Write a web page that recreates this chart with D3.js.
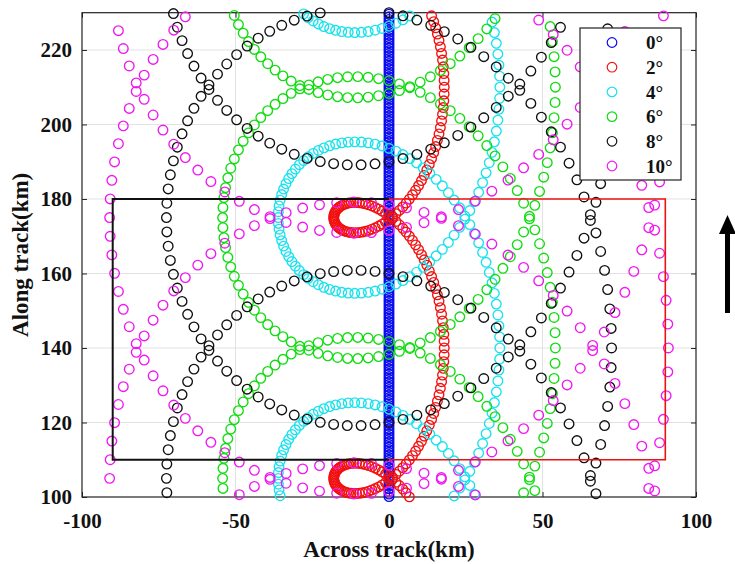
<!DOCTYPE html>
<html>
<head>
<meta charset="utf-8">
<script src="https://cdn.jsdelivr.net/npm/d3@7"></script>
<style>
  body { margin: 0; background: #fff; }
  text { font-family: "Liberation Serif", "Times New Roman", serif; font-weight: bold; }
</style>
</head>
<body>
<div id="chart"></div>
<script>
// one scan revolution per cone angle: [across km, along km relative to the loop centre]
const loop0 = [[0,-34.3],[0,-33.6],[0,-32.9],[0,-32.2],[0,-31.5],[0,-30.8],[0,-30.1],[0,-29.4],[0,-28.7],[0,-28],[0,-27.3],[0,-26.6],[0,-25.9],[0,-25.2],[0,-24.5],[0,-23.8],[0,-23.1],[0,-22.4],[0,-21.7],[0,-21],[0,-20.3],[0,-19.6],[0,-18.9],[0,-18.2],[0,-17.5],[0,-16.8],[0,-16.1],[0,-15.4],[0,-14.7],[0,-14],[0,-13.3],[0,-12.6],[0,-11.9],[0,-11.2],[0,-10.5],[0,-9.8],[0,-9.1],[0,-8.4],[0,-7.7],[0,-7],[0,-6.3],[0,-5.6],[0,-4.9],[0,-4.2],[0,-3.5],[0,-2.8],[0,-2.1],[0,-1.4],[0,-0.7],[0,0],[0,0.7],[0,1.4],[0,2.1],[0,2.8],[0,3.5],[0,4.2],[0,4.9],[0,5.6],[0,6.3],[0,7],[0,7.7],[0,8.4],[0,9.1],[0,9.8],[0,10.5],[0,11.2],[0,11.9],[0,12.6],[0,13.3],[0,14],[0,14.7],[0,15.4],[0,16.1],[0,16.8],[0,17.5],[0,18.2],[0,18.9],[0,19.6],[0,20.3],[0,21],[0,21.7],[0,22.4],[0,23.1],[0,23.8],[0,24.5],[0,25.2],[0,25.9],[0,26.6],[0,27.3],[0,28],[0,28.7],[0,29.4],[0,30.1],[0,30.8],[0,31.5],[0,32.2],[0,32.9],[0,33.6],[0,34.3],[0,35]];

const loop2 = [[17.96,-33.17],[17.86,-31.34],[17.68,-29.53],[17.43,-27.72],[17.12,-25.94],[16.74,-24.17],[16.29,-22.44],[15.77,-20.73],[15.2,-19.06],[14.56,-17.42],
  [13.87,-15.83],[13.12,-14.28],[12.32,-12.78],[11.47,-11.33],[10.58,-9.94],[9.64,-8.6],[8.67,-7.33],[7.66,-6.11],[6.63,-4.96],[5.56,-3.88],
  [4.48,-2.87],[3.37,-1.92],[2.26,-1.04],[1.13,-0.24],[0,0.5],[-1.13,1.16],[-2.26,1.76],[-3.37,2.28],[-4.48,2.73],[-5.56,3.12],
  [-6.63,3.44],[-7.66,3.69],[-8.67,3.87],[-9.64,4],[-10.58,4.06],[-11.47,4.07],[-12.32,4.02],[-13.12,3.92],[-13.87,3.77],[-14.56,3.58],
  [-15.2,3.34],[-15.77,3.07],[-16.29,2.76],[-16.74,2.43],[-17.12,2.06],[-17.43,1.68],[-17.68,1.27],[-17.86,0.86],[-17.96,0.43],
  [-18,0],
  [-17.96,-0.43],[-17.86,-0.86],[-17.68,-1.27],[-17.43,-1.68],[-17.12,-2.06],[-16.74,-2.43],[-16.29,-2.76],[-15.77,-3.07],[-15.2,-3.34],[-14.56,-3.58],
  [-13.87,-3.77],[-13.12,-3.92],[-12.32,-4.02],[-11.47,-4.07],[-10.58,-4.06],[-9.64,-4],[-8.67,-3.87],[-7.66,-3.69],[-6.63,-3.44],[-5.56,-3.12],
  [-4.48,-2.73],[-3.37,-2.28],[-2.26,-1.76],[-1.13,-1.16],[0,-0.5],[1.13,0.24],[2.26,1.04],[3.37,1.92],[4.48,2.87],[5.56,3.88],
  [6.63,4.96],[7.66,6.11],[8.67,7.33],[9.64,8.6],[10.58,9.94],[11.47,11.33],[12.32,12.78],[13.12,14.28],[13.87,15.83],[14.56,17.42],
  [15.2,19.06],[15.77,20.73],[16.29,22.44],[16.74,24.17],[17.12,25.94],[17.43,27.72],[17.68,29.53],[17.86,31.34],[17.96,33.17],[18,35]];

const loop4 = [[36.03,-32.03],[35.81,-29.08],[35.46,-26.14],[34.97,-23.22],[34.33,-20.34],[33.56,-17.51],[32.66,-14.73],[31.63,-12.01],[30.48,-9.36],[29.21,-6.78],
  [27.82,-4.29],[26.32,-1.89],[24.71,0.42],[23.01,2.62],[21.22,4.71],[19.34,6.68],[17.39,8.53],[15.37,10.26],[13.29,11.86],[11.16,13.33],
  [8.98,14.67],[6.76,15.86],[4.52,16.91],[2.27,17.83],[0,18.6],[-2.27,19.23],[-4.52,19.71],[-6.76,20.06],[-8.98,20.27],[-11.16,20.33],
  [-13.29,20.26],[-15.37,20.06],[-17.39,19.73],[-19.34,19.28],[-21.22,18.71],[-23.01,18.02],[-24.71,17.22],[-26.32,16.31],[-27.82,15.31],[-29.21,14.22],
  [-30.48,13.04],[-31.63,11.79],[-32.66,10.47],[-33.56,9.09],[-34.33,7.66],[-34.97,6.18],[-35.46,4.66],[-35.81,3.12],[-36.03,1.57],
  [-36.1,0],
  [-36.03,-1.57],[-35.81,-3.12],[-35.46,-4.66],[-34.97,-6.18],[-34.33,-7.66],[-33.56,-9.09],[-32.66,-10.47],[-31.63,-11.79],[-30.48,-13.04],[-29.21,-14.22],
  [-27.82,-15.31],[-26.32,-16.31],[-24.71,-17.22],[-23.01,-18.02],[-21.22,-18.71],[-19.34,-19.28],[-17.39,-19.73],[-15.37,-20.06],[-13.29,-20.26],[-11.16,-20.33],
  [-8.98,-20.27],[-6.76,-20.06],[-4.52,-19.71],[-2.27,-19.23],[0,-18.6],[2.27,-17.83],[4.52,-16.91],[6.76,-15.86],[8.98,-14.67],[11.16,-13.33],
  [13.29,-11.86],[15.37,-10.26],[17.39,-8.53],[19.34,-6.68],[21.22,-4.71],[23.01,-2.62],[24.71,-0.42],[26.32,1.89],[27.82,4.29],[29.21,6.78],
  [30.48,9.36],[31.63,12.01],[32.66,14.73],[33.56,17.51],[34.33,20.34],[34.97,23.22],[35.46,26.14],[35.81,29.08],[36.03,32.03],[36.1,35]];

const loop6 = [[54.09,-30.9],[53.77,-26.81],[53.24,-22.74],[52.5,-18.72],[51.55,-14.75],[50.39,-10.85],[49.04,-7.02],[47.5,-3.29],[45.76,0.34],[43.85,3.86],
  [41.76,7.25],[39.51,10.5],[37.1,13.61],[34.55,16.56],[31.86,19.35],[29.04,21.96],[26.11,24.4],[23.08,26.64],[19.95,28.69],[16.75,30.55],
  [13.48,32.2],[10.16,33.64],[6.79,34.87],[3.4,35.89],[0,36.7],[-3.4,37.29],[-6.79,37.67],[-10.16,37.84],[-13.48,37.8],[-16.75,37.55],
  [-19.95,37.09],[-23.08,36.44],[-26.11,35.6],[-29.04,34.56],[-31.86,33.35],[-34.55,31.96],[-37.1,30.41],[-39.51,28.7],[-41.76,26.85],[-43.85,24.86],
  [-45.76,22.74],[-47.5,20.51],[-49.04,18.18],[-50.39,15.75],[-51.55,13.25],[-52.5,10.68],[-53.24,8.06],[-53.77,5.39],[-54.09,2.7],
  [-54.2,0],
  [-54.09,-2.7],[-53.77,-5.39],[-53.24,-8.06],[-52.5,-10.68],[-51.55,-13.25],[-50.39,-15.75],[-49.04,-18.18],[-47.5,-20.51],[-45.76,-22.74],[-43.85,-24.86],
  [-41.76,-26.85],[-39.51,-28.7],[-37.1,-30.41],[-34.55,-31.96],[-31.86,-33.35],[-29.04,-34.56],[-26.11,-35.6],[-23.08,-36.44],[-19.95,-37.09],[-16.75,-37.55],
  [-13.48,-37.8],[-10.16,-37.84],[-6.79,-37.67],[-3.4,-37.29],[0,-36.7],[3.4,-35.89],[6.79,-34.87],[10.16,-33.64],[13.48,-32.2],[16.75,-30.55],
  [19.95,-28.69],[23.08,-26.64],[26.11,-24.4],[29.04,-21.96],[31.86,-19.35],[34.55,-16.56],[37.1,-13.61],[39.51,-10.5],[41.76,-7.25],[43.85,-3.86],
  [45.76,-0.34],[47.5,3.29],[49.04,7.02],[50.39,10.85],[51.55,14.75],[52.5,18.72],[53.24,22.74],[53.77,26.81],[54.09,30.9],[54.2,35]];

const loop8 = [[72.36,-29.75],[71.93,-24.51],[71.22,-19.31],[70.22,-14.17],[68.95,-9.1],[67.41,-4.11],[65.6,0.77],[63.53,5.53],[61.21,10.15],[58.65,14.61],
  [55.86,18.91],[52.85,23.03],[49.63,26.95],[46.21,30.66],[42.61,34.15],[38.85,37.41],[34.93,40.43],[30.87,43.2],[26.69,45.71],[22.4,47.95],
  [18.03,49.92],[13.59,51.62],[9.09,53.03],[4.55,54.16],[0,55],[-4.55,55.56],[-9.09,55.83],[-13.59,55.82],[-18.03,55.52],[-22.4,54.95],
  [-26.69,54.11],[-30.87,53],[-34.93,51.63],[-38.85,50.01],[-42.61,48.15],[-46.21,46.06],[-49.63,43.75],[-52.85,41.23],[-55.86,38.51],[-58.65,35.61],
  [-61.21,32.55],[-63.53,29.33],[-65.6,25.97],[-67.41,22.49],[-68.95,18.9],[-70.22,15.23],[-71.22,11.49],[-71.93,7.69],[-72.36,3.85],
  [-72.5,0],
  [-72.36,-3.85],[-71.93,-7.69],[-71.22,-11.49],[-70.22,-15.23],[-68.95,-18.9],[-67.41,-22.49],[-65.6,-25.97],[-63.53,-29.33],[-61.21,-32.55],[-58.65,-35.61],
  [-55.86,-38.51],[-52.85,-41.23],[-49.63,-43.75],[-46.21,-46.06],[-42.61,-48.15],[-38.85,-50.01],[-34.93,-51.63],[-30.87,-53],[-26.69,-54.11],[-22.4,-54.95],
  [-18.03,-55.52],[-13.59,-55.82],[-9.09,-55.83],[-4.55,-55.56],[0,-55],[4.55,-54.16],[9.09,-53.03],[13.59,-51.62],[18.03,-49.92],[22.4,-47.95],
  [26.69,-45.71],[30.87,-43.2],[34.93,-40.43],[38.85,-37.41],[42.61,-34.15],[46.21,-30.66],[49.63,-26.95],[52.85,-23.03],[55.86,-18.91],[58.65,-14.61],
  [61.21,-10.15],[63.53,-5.53],[65.6,-0.77],[67.41,4.11],[68.95,9.1],[70.22,14.17],[71.22,19.31],[71.93,24.51],[72.36,29.75],[72.5,35]];

const loop10 = [[90.82,-28.59],[90.28,-22.19],[89.39,-15.85],[88.14,-9.57],[86.55,-3.38],[84.61,2.7],[82.34,8.65],[79.74,14.44],[76.83,20.06],[73.62,25.49],
  [70.12,30.71],[66.34,35.69],[62.29,40.44],[58.01,44.92],[53.49,49.12],[48.76,53.03],[43.84,56.64],[38.75,59.94],[33.5,62.91],[28.12,65.55],
  [22.63,67.84],[17.05,69.79],[11.41,71.38],[5.71,72.62],[0,73.5],[-5.71,74.02],[-11.41,74.18],[-17.05,73.99],[-22.63,73.44],[-28.12,72.55],
  [-33.5,71.31],[-38.75,69.74],[-43.84,67.84],[-48.76,65.63],[-53.49,63.12],[-58.01,60.32],[-62.29,57.24],[-66.34,53.89],[-70.12,50.31],[-73.62,46.49],
  [-76.83,42.46],[-79.74,38.24],[-82.34,33.85],[-84.61,29.3],[-86.55,24.62],[-88.14,19.83],[-89.39,14.95],[-90.28,10.01],[-90.82,5.01],
  [-91,0],
  [-90.82,-5.01],[-90.28,-10.01],[-89.39,-14.95],[-88.14,-19.83],[-86.55,-24.62],[-84.61,-29.3],[-82.34,-33.85],[-79.74,-38.24],[-76.83,-42.46],[-73.62,-46.49],
  [-70.12,-50.31],[-66.34,-53.89],[-62.29,-57.24],[-58.01,-60.32],[-53.49,-63.12],[-48.76,-65.63],[-43.84,-67.84],[-38.75,-69.74],[-33.5,-71.31],[-28.12,-72.55],
  [-22.63,-73.44],[-17.05,-73.99],[-11.41,-74.18],[-5.71,-74.02],[0,-73.5],[5.71,-72.62],[11.41,-71.38],[17.05,-69.79],[22.63,-67.84],[28.12,-65.55],
  [33.5,-62.91],[38.75,-59.94],[43.84,-56.64],[48.76,-53.03],[53.49,-49.12],[58.01,-44.92],[62.29,-40.44],[66.34,-35.69],[70.12,-30.71],[73.62,-25.49],
  [76.83,-20.06],[79.74,-14.44],[82.34,-8.65],[84.61,-2.7],[86.55,3.38],[88.14,9.57],[89.39,15.85],[90.28,22.19],[90.82,28.59],[91,35]];

// along-track positions of the loop centres (one revolution each)
const loopCentres = [35, 105, 175, 245];
const angleLabels = ["0°", "2°", "4°", "6°", "8°", "10°"];

const xTicks = [-100, -50, 0, 50, 100];
const yTicks = [100, 120, 140, 160, 180, 200, 220];
const xDomain = [-100, 100];
const yDomain = [100, 230];

// coverage boxes
const boxLeft = [[0, 180], [-90, 180], [-90, 110], [0, 110]];
const boxRight = [[0, 180], [90, 180], [90, 110], [0, 110]];

const loops = [loop0, loop2, loop4, loop6, loop8, loop10];
const colors = ["#0a0aee", "#f21010", "#18e2ee", "#10dc10", "#111111", "#f018f0"];

const width = 735, height = 564;

const x = d3.scaleLinear().domain(xDomain).range([82, 696]);
const y = d3.scaleLinear().domain(yDomain).range([497, 12.7]);

const svg = d3.select("#chart").append("svg")
    .attr("width", width)
    .attr("height", height);

// grid
svg.append("g").selectAll("line")
    .data(xTicks.slice(1, -1))
    .join("line")
    .attr("x1", d => x(d)).attr("x2", d => x(d))
    .attr("y1", y(yDomain[0])).attr("y2", y(yDomain[1]))
    .attr("stroke", "#e2e2e2");
svg.append("g").selectAll("line")
    .data(yTicks.slice(1))
    .join("line")
    .attr("x1", x(xDomain[0])).attr("x2", x(xDomain[1]))
    .attr("y1", d => y(d)).attr("y2", d => y(d))
    .attr("stroke", "#e2e2e2");

// axes, ticks pointing inwards
const fmt = d => String(d);
const gx = svg.append("g").attr("transform", `translate(0,${y(yDomain[0])})`)
    .call(d3.axisBottom(x).tickValues(xTicks).tickFormat(fmt).tickSize(-5).tickPadding(16));
const gxt = svg.append("g").attr("transform", `translate(0,${y(yDomain[1])})`)
    .call(d3.axisTop(x).tickValues(xTicks).tickFormat("").tickSize(-5));
const gy = svg.append("g").attr("transform", `translate(${x(xDomain[0])},0)`)
    .call(d3.axisLeft(y).tickValues(yTicks).tickFormat(fmt).tickSize(-5).tickPadding(10));
const gyr = svg.append("g").attr("transform", `translate(${x(xDomain[1])},0)`)
    .call(d3.axisRight(y).tickValues(yTicks).tickFormat("").tickSize(-5));
[gx, gxt, gy, gyr].forEach(g => {
    g.select(".domain").remove();
    g.selectAll("line").attr("stroke", "#222");
    g.selectAll("text").attr("font-size", 21).attr("fill", "#111")
        .style("font-family", '"Liberation Serif", "Times New Roman", serif').style("font-weight", "bold");
});

svg.append("rect")
    .attr("x", x(xDomain[0])).attr("y", y(yDomain[1]))
    .attr("width", x(xDomain[1]) - x(xDomain[0]))
    .attr("height", y(yDomain[0]) - y(yDomain[1]))
    .attr("fill", "none").attr("stroke", "#222").attr("stroke-width", 1.2);

// scan points of every cone angle
loops.forEach((loop, i) => {
    const pts = loopCentres
        .flatMap(c => loop.map(([px, dy]) => [px, +(c + dy).toFixed(2)]))
        .filter(p => p[1] >= yDomain[0] && p[1] <= yDomain[1]);
    svg.append("g").selectAll("circle")
        .data(pts)
        .join("circle")
        .attr("cx", d => x(d[0]))
        .attr("cy", d => y(d[1]))
        .attr("r", 4.8)
        .attr("fill", "none")
        .attr("stroke", colors[i])
        .attr("stroke-width", 1.35);
});

// coverage boxes
const line = d3.line().x(d => x(d[0])).y(d => y(d[1]));
svg.append("path").datum(boxLeft).attr("d", line)
    .attr("fill", "none").attr("stroke", "#111").attr("stroke-width", 2);
svg.append("path").datum(boxRight).attr("d", line)
    .attr("fill", "none").attr("stroke", "#ee1111").attr("stroke-width", 1.6);

// legend
const lg = svg.append("g");
lg.append("rect")
    .attr("x", 580).attr("y", 28).attr("width", 101).attr("height", 152)
    .attr("fill", "#fff").attr("stroke", "#222").attr("stroke-width", 1.2);
angleLabels.forEach((lab, i) => {
    const yy = 42.5 + i * 24.7;
    lg.append("circle").attr("cx", 612).attr("cy", yy).attr("r", 4.8)
        .attr("fill", "none").attr("stroke", colors[i]).attr("stroke-width", 1.2);
    lg.append("text").attr("x", 646).attr("y", yy).attr("dy", "0.35em")
        .attr("font-size", 19).attr("fill", "#111").text(lab);
});

// flight direction arrow
svg.append("rect").attr("x", 725).attr("y", 232).attr("width", 5).attr("height", 81).attr("fill", "#000");
svg.append("path").attr("d", "M727.5,215 L736,234 L719,234 Z").attr("fill", "#000");

// axis titles
svg.append("text")
    .attr("x", (x(xDomain[0]) + x(xDomain[1])) / 2).attr("y", 557)
    .attr("text-anchor", "middle").attr("font-size", 23).attr("fill", "#111")
    .text("Across track(km)");
svg.append("text")
    .attr("transform", `translate(28,${(y(yDomain[0]) + y(yDomain[1])) / 2}) rotate(-90)`)
    .attr("text-anchor", "middle").attr("font-size", 23).attr("fill", "#111")
    .text("Along track(km)");
</script>
</body>
</html>
